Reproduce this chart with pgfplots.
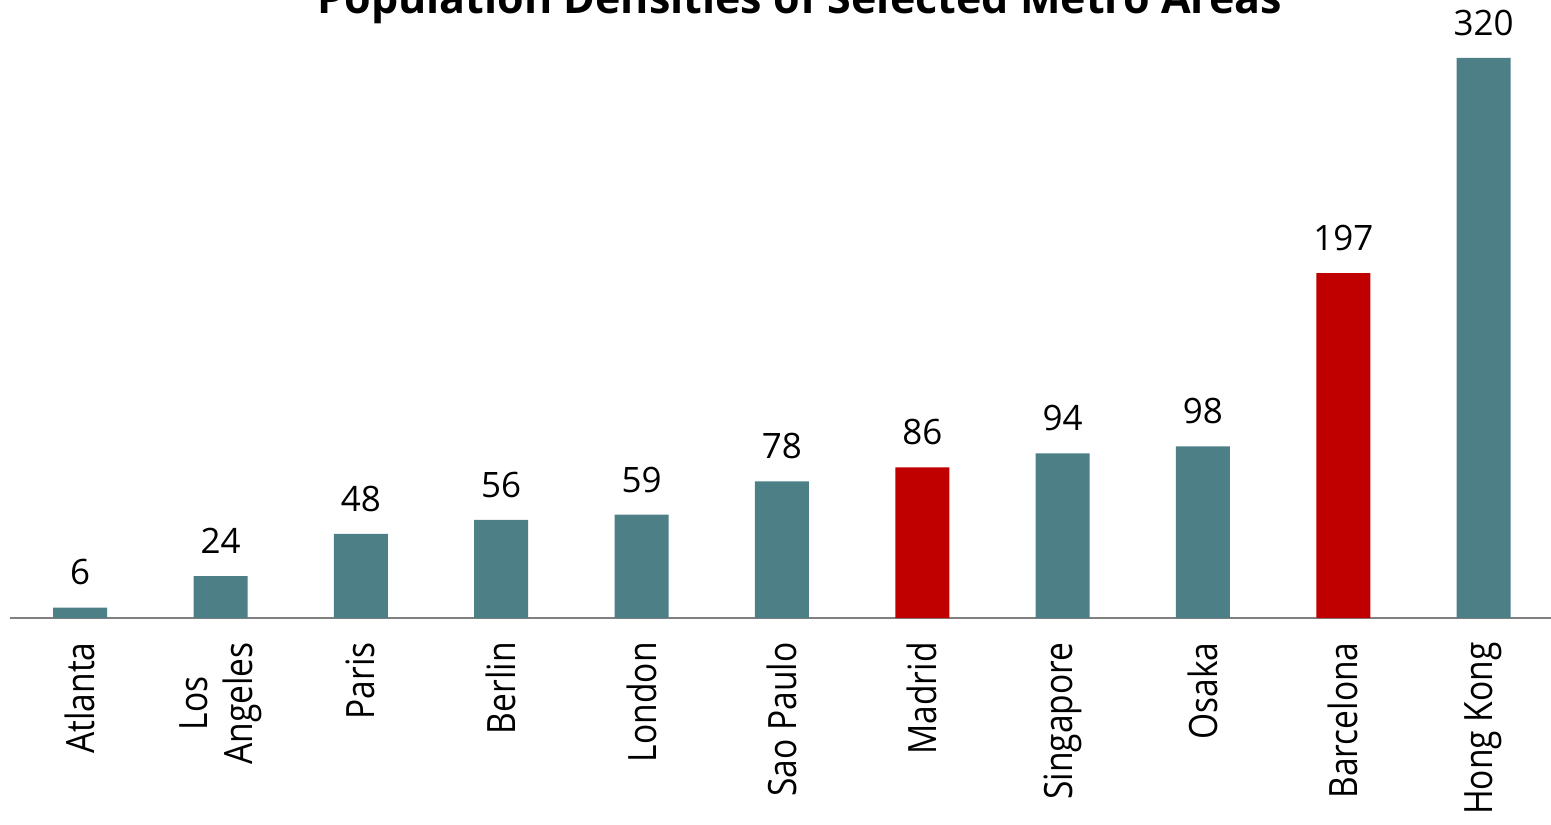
\documentclass[border=0pt]{standalone}
\usepackage{pgfplots}
\pgfplotsset{compat=1.18}
\usepackage{pgfplotstable}
\usepackage{fontspec}
\setmainfont{Open Sans}
\newfontfamily\labelfont{Open Sans}[FakeStretch=0.86]

\definecolor{barteal}{HTML}{4D7F87}
\definecolor{barred}{HTML}{C00000}
\definecolor{axisgray}{HTML}{808080}

% population density per metro area; x is the position of the city
\pgfplotstableread{
x val
0 6
1 24
2 48
3 56
4 59
5 78
7 94
8 98
10 320
}\tealbars
\pgfplotstableread{
x val
6 86
9 197
}\redbars

\begin{document}
\begin{tikzpicture}
\useasboundingbox (0pt,0pt) rectangle (775.5pt,412pt);
\clip (0pt,0pt) rectangle (775.5pt,412pt);
\begin{axis}[
  at={(5pt,103pt)}, anchor=south west,
  scale only axis, width=770.5pt, height=280pt,
  xmin=-0.5, xmax=10.48, ymin=0, ymax=320,
  axis x line=bottom, axis y line=none,
  x axis line style={-, draw=axisgray, line width=1pt},
  xtick={0,...,10},
  xticklabels={Atlanta, {Los\\Angeles}, Paris, Berlin, London, Sao Paulo, Madrid, Singapore, Osaka, Barcelona, Hong Kong},
  major tick length=0pt,
  xtick style={draw=none},
  ytick=\empty,
  xticklabel style={rotate=90, anchor=east, align=center, inner sep=0pt,
    font=\labelfont\fontsize{19.5}{22.5}\selectfont},
  xticklabel shift=12pt,
  ybar, bar width=27pt,
  nodes near coords,
  nodes near coords style={anchor=base, yshift=11.25pt, text=black,
    font=\fontsize{17.5}{21}\selectfont,
    /pgf/number format/assume math mode=true},
  clip=false,
  title={Population Densities of Selected Metro Areas},
  title style={at={(0.5,1)}, anchor=base, xshift=9.75pt, yshift=16pt,
    font=\bfseries\fontsize{21.5}{26}\selectfont},
]
\addplot[fill=barteal, draw=none, bar shift=0pt] table[x=x,y=val]{\tealbars};
\addplot[fill=barred, draw=none, bar shift=0pt] table[x=x,y=val]{\redbars};
\end{axis}
\end{tikzpicture}
\end{document}
